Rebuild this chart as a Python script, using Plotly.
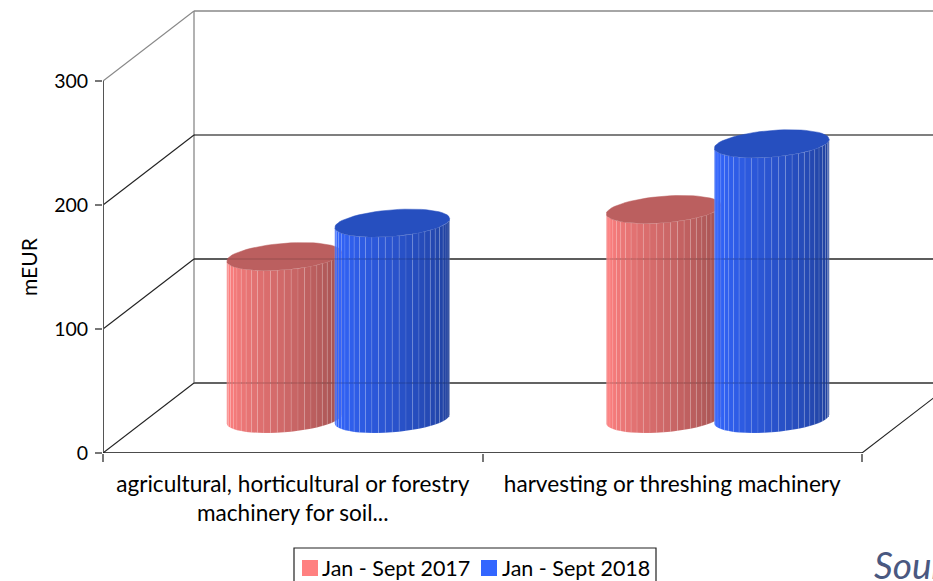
import math
import plotly.graph_objects as go

categories = ["agricultural, horticultural or forestry<br>machinery for soil...", "harvesting or threshing machinery"]
series_names = ["Jan - Sept 2017", "Jan - Sept 2018"]
series_2017 = [131, 169]
series_2018 = [158, 222]
y_ticks = [0, 100, 200, 300]

FONT = "Lato"
PX_X = 379.5      # pixels per category
PX_Y = 1.24       # pixels per mEUR
L, B, W, H = 103, 128, 933, 581
plot_w, plot_h = W - L, H - B
Y0 = H - B
DX, DY = 91 / PX_X, 70 / PX_Y      # depth of the box in axis units
BASE_DY = 34 / PX_Y
OFFS = [-54 / PX_X, 54 / PX_X]     # cylinder offset in group
A, SH, EH = 54.5 / PX_X, 18.2 / PX_X, 14 / PX_Y
N = 26
T0 = math.atan2(SH, A)

LIGHT = [(255, 128, 128), (51, 102, 255)]
DARK = [(150, 76, 76), (31, 62, 148)]
TOP = ["#bb5f5f", "#264fbf"]

fig = go.Figure()


def px(x):
    return (x - L) / plot_w


def py(y):
    return (Y0 - y) / plot_h


def line(xs, ys, color, width):
    fig.add_trace(go.Scatter(x=xs, y=ys, mode="lines", line=dict(color=color, width=width),
                             showlegend=False, hoverinfo="skip", cliponaxis=False))


# walls and grid
GRID = {0: ("#6e6e6e", 2), 100: ("#333333", 1.3), 200: ("#000000", 1.2), 300: ("#888888", 1.5)}
xmax = plot_w / PX_X
line([DX, DX], [DY, 300 + DY], "#999999", 1.5)
for v in y_ticks:
    c, w = GRID[v]
    line([DX, xmax], [v + DY, v + DY], c, w)
    line([0, DX], [v, v + DY], "#888888" if v == 300 else "#222222", 1.1)
line([2, 2 + DX], [0, DY], "#222222", 1.1)


def pt(cx, cy, t):
    return cx + A * math.cos(t) + SH * math.sin(t), cy + EH * math.sin(t)


def cylinder(group, s, value):
    cx = group + 0.5 + OFFS[s] + DX / 2
    cb, ct = BASE_DY, value + BASE_DY
    for i in range(N):
        t1 = T0 + math.pi + math.pi * i / N
        t2 = T0 + math.pi + math.pi * (i + 1) / N
        f = (i + 0.5) / N
        k = 0.92 + f / 0.08 * 0.08 if f < 0.08 else 1 - (f - 0.08) / 0.92
        if f < 0.08:
            col = tuple(int(c * k) for c in LIGHT[s])
        else:
            col = tuple(int(d + (l - d) * k) for l, d in zip(LIGHT[s], DARK[s]))
        ts = [t1 + (t2 - t1) * j / 3 for j in range(4)]
        top = [pt(cx, ct, t) for t in ts]
        bot = [pt(cx, cb, t) for t in reversed(ts)]
        poly = top + bot + [top[0]]
        fig.add_trace(go.Scatter(x=[p[0] for p in poly], y=[p[1] for p in poly], mode="lines", fill="toself",
                                 fillcolor="rgb(%d,%d,%d)" % col,
                                 line=dict(color="rgba(255,255,255,0.10)", width=1),
                                 showlegend=False, hoverinfo="skip", cliponaxis=False))
    ell = [pt(cx, ct, 2 * math.pi * j / 60) for j in range(61)]
    fig.add_trace(go.Scatter(x=[p[0] for p in ell], y=[p[1] for p in ell], mode="lines", fill="toself",
                             fillcolor=TOP[s], line=dict(color=TOP[s], width=0.5),
                             showlegend=False, hoverinfo="skip", cliponaxis=False))


for g in range(len(categories)):
    cylinder(g, 0, series_2017[g])
    cylinder(g, 1, series_2018[g])

# back grid faintly showing through the cylinders
for v in [0, 100]:
    fig.add_trace(go.Scatter(x=[DX, xmax], y=[v + DY, v + DY], mode="lines",
                             line=dict(color="rgba(0,0,0,0.13)", width=1.5),
                             showlegend=False, hoverinfo="skip"))

# axis lines
line([0, 0], [0, 300], "#555555", 2)
line([0, 2], [0, 0], "#111111", 1.6)

# legend box, swatches and labels
fig.add_shape(type="rect", xref="paper", yref="paper", x0=px(294), x1=px(656), y0=py(590), y1=py(548),
              line=dict(color="#222222", width=1.2), fillcolor="white", layer="above")
for n, c, sx, tx in zip(series_names, LIGHT, [302, 481], [320, 500]):
    fig.add_shape(type="rect", xref="paper", yref="paper", x0=px(sx), x1=px(sx + 16), y0=py(576), y1=py(560),
                  line=dict(width=0), fillcolor="rgb(%d,%d,%d)" % c, layer="above")
    fig.add_annotation(text=n, xref="paper", yref="paper", x=px(tx), y=py(568), xanchor="left", yanchor="middle",
                       showarrow=False, font=dict(family=FONT, size=21.5, color="#000"))

fig.add_annotation(text="mEUR", textangle=-90, xref="paper", yref="y", x=px(28), y=150, xanchor="center",
                   showarrow=False, font=dict(family=FONT, size=21, color="#000"))
fig.add_annotation(text="Source", xref="paper", yref="paper", x=px(872), y=py(564),
                   xanchor="left", yanchor="middle", showarrow=False,
                   font=dict(family=FONT, size=37, color="#4a5880", style="italic"))

fig.update_layout(
    width=W, height=H, autosize=False, margin=dict(l=L, r=0, t=0, b=B, pad=0, autoexpand=False),
    paper_bgcolor="white", plot_bgcolor="white", showlegend=False,
    font=dict(family=FONT, size=21, color="#000"),
    xaxis=dict(range=[0, xmax], tickmode="array", tickvals=[0.5, 1.5], ticktext=categories, ticks="",
               tickfont=dict(size=22.6),
               showgrid=False, zeroline=False, showline=False, ticklabelstandoff=15, automargin=False,
               minor=dict(tickmode="array", tickvals=[0, 1, 2], ticks="outside", ticklen=8, tickcolor="#777777", tickwidth=1.5, showgrid=False)),
    yaxis=dict(range=[0, plot_h / PX_Y], tickmode="array", tickvals=y_ticks, ticks="outside", ticklen=7,
               tickfont=dict(size=19.5),
               tickcolor="#777777", tickwidth=1.5, showgrid=False, zeroline=False, showline=False,
               ticklabelstandoff=3, automargin=False),
)

fig.write_html("out.html", config={"displayModeBar": False},
               post_script="document.body.style.margin='0';document.body.style.overflow='hidden';")
